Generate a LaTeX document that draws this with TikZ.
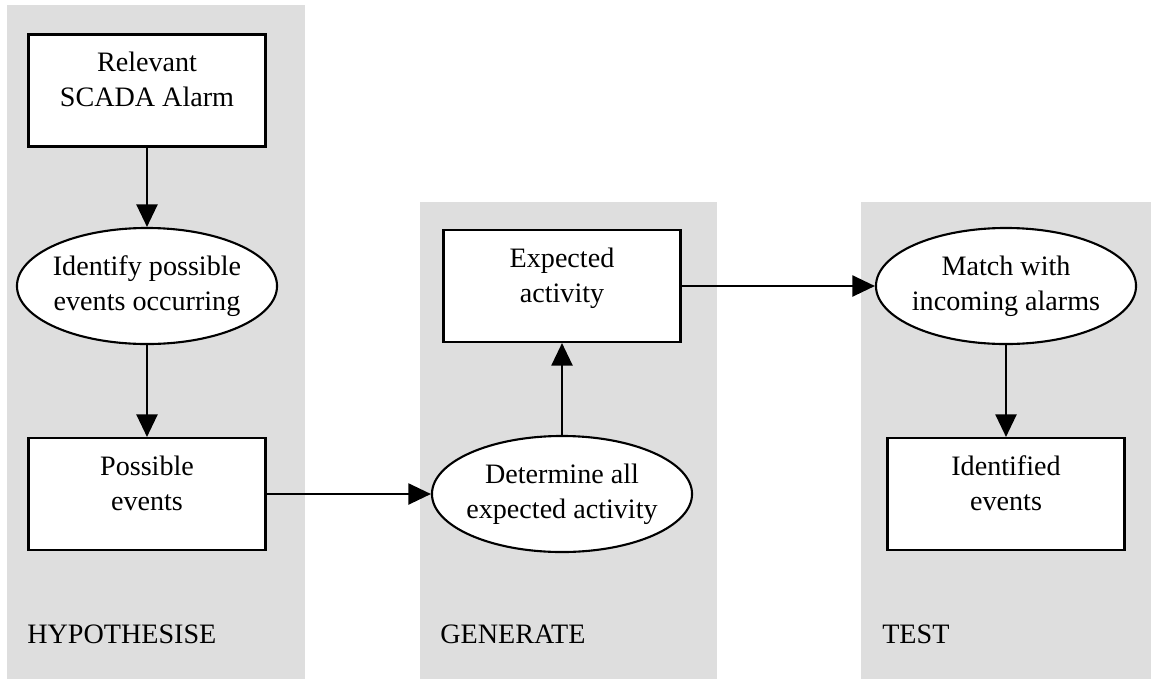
\documentclass[tikz,border=0pt]{standalone}
\usepackage{fontspec}
\setmainfont{Liberation Serif}
\usepackage{xcolor}
\usepackage{tikz}
\usetikzlibrary{shapes.geometric,arrows.meta}
\definecolor{panelgray}{RGB}{222,222,222}
\newcommand{\boxlines}[2]{\raisebox{6pt}[\height][\depth]{\begin{tabular}{@{}c@{}}#1\\#2\end{tabular}}}
\newcommand{\ovallines}[2]{\makebox[0pt]{\begin{tabular}{@{}c@{}}#1\\#2\end{tabular}}}

\begin{document}
\begin{tikzpicture}[x=0.025cm,y=-0.025cm,
		font=\fontsize{20}{25}\selectfont,
		box/.style={draw,rectangle,fill=white,line width=1.5pt,inner sep=0pt,minimum width=5.925cm,minimum height=2.8cm},
		oval/.style={draw,ellipse,fill=white,line width=1.5pt,inner sep=0pt,minimum width=6.5cm,minimum height=2.9cm},
		stage/.style={anchor=base west,inner sep=0pt}]
		\useasboundingbox (0,0) rectangle (1151,679);
		% grey stage panels
		\fill[panelgray] (7,5) rectangle (305,679);
		\fill[panelgray] (420,202) rectangle (717,679);
		\fill[panelgray] (861,202) rectangle (1151,679);
		%
		\node[box] (alarm) at (147,90.5) {\boxlines{Relevant}{SCADA Alarm}};
		\node[oval] (identify) at (147,286) {\ovallines{Identify possible}{events occurring}};
		\node[box] (possible) at (147,494) {\boxlines{Possible}{events}};
		\node[oval] (determine) at (562,494) {\ovallines{Determine all}{expected activity}};
		\node[box] (expected) at (562,286) {\boxlines{Expected}{activity}};
		\node[oval] (match) at (1006,286) {\ovallines{Match with}{incoming alarms}};
		\node[box] (identified) at (1006,494) {\boxlines{Identified}{events}};
		%
		\node[stage] (hyp) at (27,643) {HYPOTHESISE};
		\node[stage] (gen) at (440,643) {GENERATE};
		\node[stage] (tst) at (882,643) {TEST};
		%
		\path[-{Triangle[length=16pt,width=15pt]},line width=1.3pt]
		% vertical arrows
		(alarm) edge (identify)
		(identify) edge (possible)
		(determine) edge (expected)
		(match) edge (identified)
		% horizontal arrows
		(possible) edge (determine)
		(expected) edge (match);
	\end{tikzpicture}
\end{document}
